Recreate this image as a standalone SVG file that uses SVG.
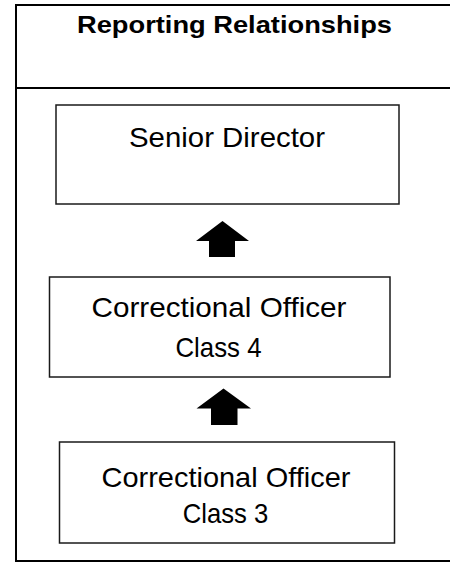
<svg xmlns="http://www.w3.org/2000/svg" width="450" height="563" viewBox="0 0 450 563">
<style>
.frame{fill:none;stroke:#000;stroke-width:2}
.box{fill:#fff;stroke:#1a1a1a;stroke-width:1.5}
.lbl{font-family:"Liberation Sans",Arial,sans-serif;font-size:28px;fill:#000;text-anchor:middle}
.title{font-family:"Liberation Sans",Arial,sans-serif;font-size:24px;font-weight:bold;fill:#000;text-anchor:middle}
.arr{fill:#000}
</style>
<rect width="450" height="563" fill="#fff"/>
<g id="frame">
<path class="frame" d="M460,5 H16 V561 H460 M16,88 H460"/>
<text class="title" x="234.5" y="33" textLength="315" lengthAdjust="spacingAndGlyphs">Reporting Relationships</text>
</g>
<g id="senior-director">
<rect class="box" x="56" y="105" width="343" height="99"/>
<text class="lbl" x="227" y="147" textLength="196" lengthAdjust="spacingAndGlyphs">Senior Director</text>
</g>
<g id="co4">
<rect class="box" x="49.5" y="277" width="340.5" height="100"/>
<text class="lbl" x="219" y="317" textLength="255" lengthAdjust="spacingAndGlyphs">Correctional Officer</text>
<text class="lbl" x="218.5" y="356.5" textLength="86" lengthAdjust="spacingAndGlyphs">Class 4</text>
</g>
<g id="co3">
<rect class="box" x="59.5" y="442" width="335" height="101"/>
<text class="lbl" x="226" y="487" textLength="249" lengthAdjust="spacingAndGlyphs">Correctional Officer</text>
<text class="lbl" x="225.5" y="523" textLength="85.5" lengthAdjust="spacingAndGlyphs">Class 3</text>
</g>
<g id="connectors">
<polygon class="arr" points="222.5,221 249,241 235,241 235,257 209,257 209,241 196,241"/>
<polygon class="arr" points="223.5,388.5 251,408.5 237.5,408.5 237.5,425 211,425 211,408.5 196.5,408.5"/>
</g>
</svg>
